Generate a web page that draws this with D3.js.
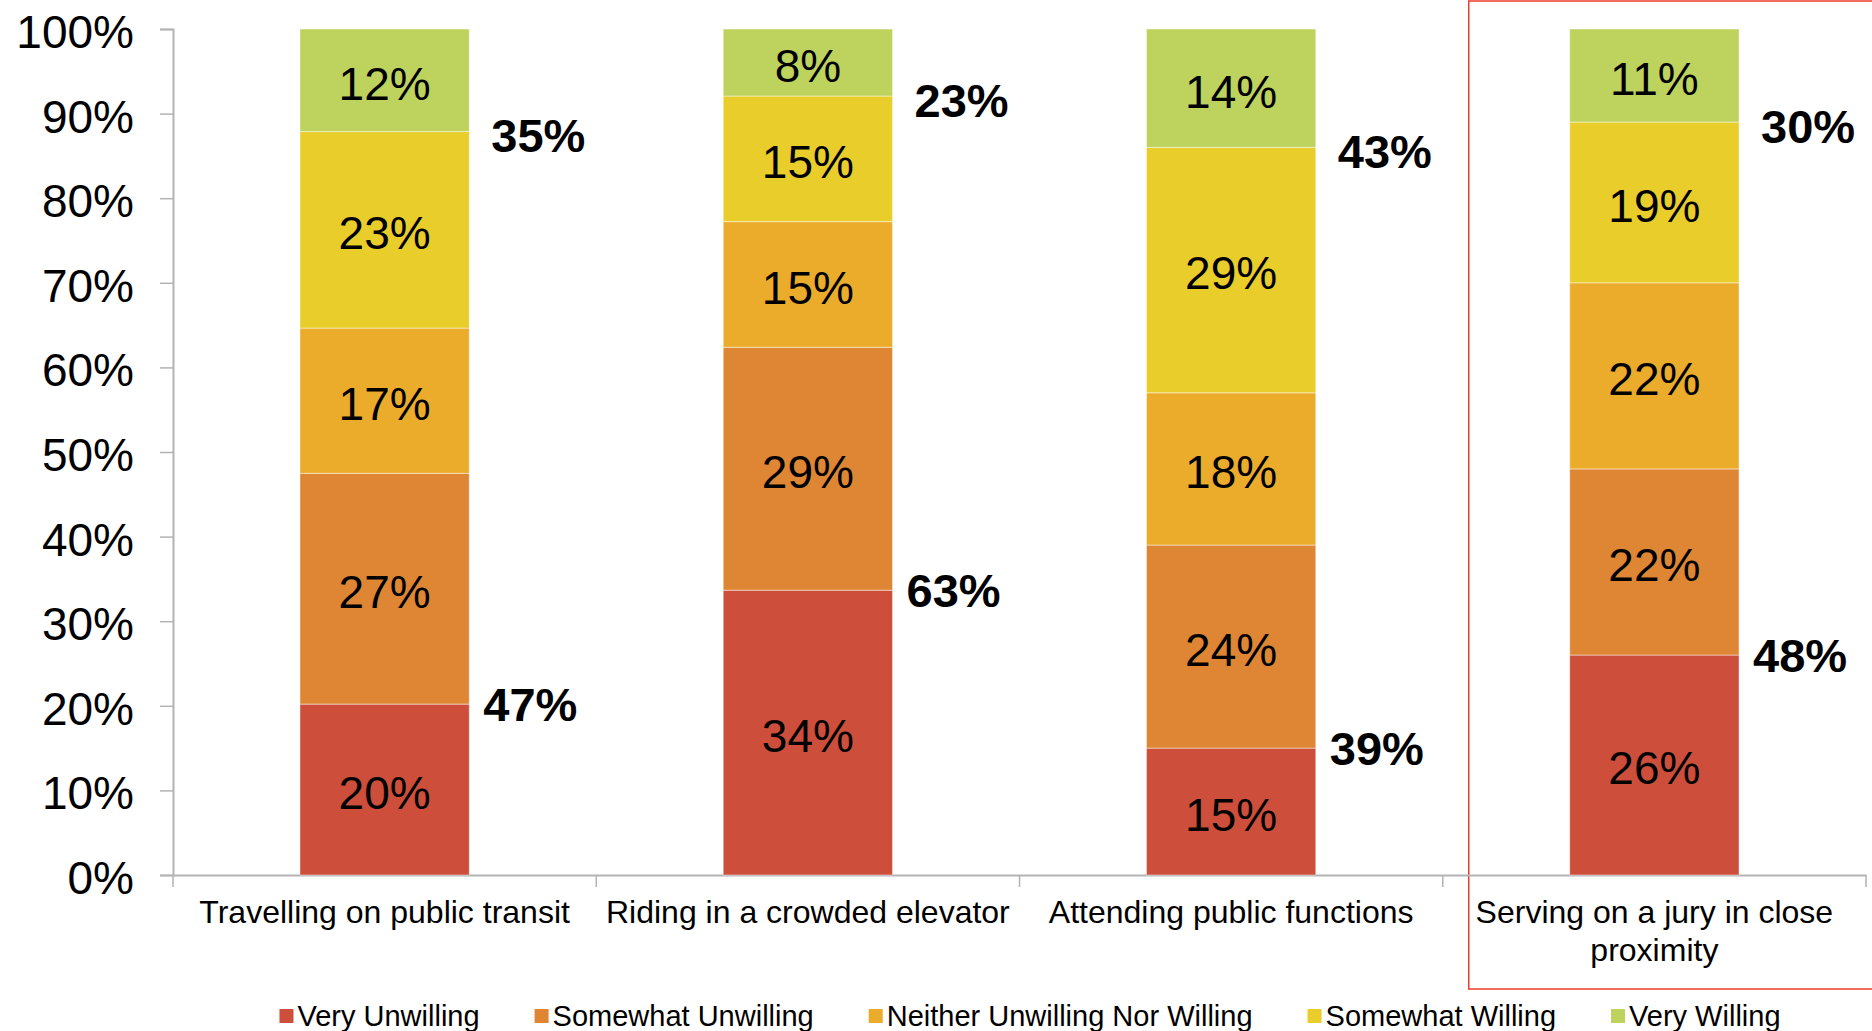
<!DOCTYPE html>
<html>
<head>
<meta charset="utf-8">
<script src="https://cdn.jsdelivr.net/npm/d3@7"></script>
<style>
  body { margin: 0; background: #fff; }
  svg text { font-family: "Liberation Sans", Arial, Helvetica, sans-serif; }
</style>
</head>
<body>
<svg id="chart"></svg>
<script>
// chart values
const categories = [
    'Travelling on public transit',
    'Riding in a crowded elevator',
    'Attending public functions',
    'Serving on a jury in close proximity'
];
const seriesNames = ['Very Unwilling', 'Somewhat Unwilling', 'Neither Unwilling Nor Willing', 'Somewhat Willing', 'Very Willing'];
const veryUnwilling = [20, 34, 15, 26];
const somewhatUnwilling = [27, 29, 24, 22];
const neither = [17, 15, 18, 22];
const somewhatWilling = [23, 15, 29, 19];
const veryWilling = [12, 8, 14, 11];
const yTicks = [0, 0.1, 0.2, 0.3, 0.4, 0.5, 0.6, 0.7, 0.8, 0.9, 1];
const highlighted = 'Serving on a jury in close proximity';

const colors = ['#cd4e3b', '#de8634', '#ebac2c', '#e8cd2b', '#bed35e'];

const width = 1872, height = 1031;
const margin = { top: 29, right: 6, bottom: 156, left: 173 };

let svg = d3.select('#chart')
    .attr('width', width)
    .attr('height', height);

let rows = categories.map((c, i) => ({
    cat: c,
    'Very Unwilling': veryUnwilling[i],
    'Somewhat Unwilling': somewhatUnwilling[i],
    'Neither Unwilling Nor Willing': neither[i],
    'Somewhat Willing': somewhatWilling[i],
    'Very Willing': veryWilling[i]
}));

const stack = d3.stack()
    .keys(seriesNames)
    .offset(d3.stackOffsetExpand);
const layers = stack(rows);

const x = d3.scaleBand()
    .domain(categories)
    .range([margin.left, width - margin.right])
    .padding(0);
const y = d3.scaleLinear()
    .domain([0, 1])
    .range([height - margin.bottom, margin.top]);

const barW = x.bandwidth() * 0.4;
const barX = c => x(c) + (x.bandwidth() - barW) / 2;

/**
 * highlight box round the last category
 */
svg.append('rect')
    .attr('x', x(highlighted) + 26)
    .attr('y', 1)
    .attr('width', width)
    .attr('height', 988)
    .attr('fill', 'none')
    .attr('stroke', '#ee3b2a')
    .attr('stroke-width', 1.5);

/**
 * y axis
 */
let yAxis = svg.append('g')
    .attr('transform', `translate(${margin.left},0)`)
    .call(d3.axisLeft(y).tickValues(yTicks).tickFormat(d3.format('.0%')).tickSize(13).tickPadding(26));
yAxis.select('.domain').attr('stroke', '#b3b3b3').attr('stroke-width', 2);
yAxis.selectAll('.tick line').attr('stroke', '#b3b3b3').attr('stroke-width', 1.5);
yAxis.selectAll('.tick text')
    .attr('fill', '#000')
    .attr('dy', '0.4em')
    .style('font-size', '46px')
    .style('font-family', '"Liberation Sans", Arial, sans-serif');

/**
 * x axis with ticks on the category boundaries
 */
let xAxis = svg.append('g')
    .attr('transform', `translate(0,${y(0)})`)
    .call(d3.axisBottom(x).tickSize(0).tickFormat(''));
xAxis.select('.domain').attr('stroke', '#b3b3b3').attr('stroke-width', 2);

let bounds = categories.map(c => x(c)).concat([x.range()[1]]);
svg.append('g').selectAll('line')
    .data(bounds)
    .join('line')
    .attr('x1', d => d).attr('x2', d => d)
    .attr('y1', y(0)).attr('y2', y(0) + 12)
    .attr('stroke', '#b3b3b3')
    .attr('stroke-width', 1.5);

/**
 * stacked bars
 */
let layerG = svg.append('g').selectAll('g')
    .data(layers)
    .join('g')
    .attr('fill', (d, i) => colors[i]);

layerG.selectAll('rect')
    .data(d => d)
    .join('rect')
    .attr('x', d => barX(d.data.cat))
    .attr('y', d => y(d[1]))
    .attr('width', barW)
    .attr('height', d => y(d[0]) - y(d[1]))
    .attr('stroke', 'rgba(255,255,255,0.45)')
    .attr('stroke-width', 1);

layerG.selectAll('text')
    .data((d) => d.map(p => ({ p: p, key: d.key })))
    .join('text')
    .attr('x', d => barX(d.p.data.cat) + barW / 2)
    .attr('y', d => (y(d.p[0]) + y(d.p[1])) / 2)
    .attr('dy', '0.42em')
    .attr('text-anchor', 'middle')
    .attr('fill', '#000')
    .style('font-size', '46px')
    .text(d => d.p.data[d.key] + '%');

/**
 * totals: willing on top, unwilling below
 */
let totals = svg.append('g');
rows.forEach((r, i) => {
    let right = barX(r.cat) + barW;
    let willing = r['Somewhat Willing'] + r['Very Willing'];
    let unwilling = r['Very Unwilling'] + r['Somewhat Unwilling'];
    totals.append('text')
        .attr('x', right + 22)
        .attr('y', y(layers[3][i][1]) + 4)
        .attr('dy', '0.36em')
        .style('font-size', '47px')
        .style('font-weight', 'bold')
        .text(willing + '%');
    totals.append('text')
        .attr('x', right + 14)
        .attr('y', y(layers[0][i][1]))
        .attr('dy', '0.36em')
        .style('font-size', '47px')
        .style('font-weight', 'bold')
        .text(unwilling + '%');
});

/**
 * category labels, wrapped to the band width
 */
let catLabels = svg.append('g').selectAll('text')
    .data(categories)
    .join('text')
    .attr('x', d => x(d) + x.bandwidth() / 2)
    .attr('y', y(0) + 48)
    .attr('text-anchor', 'middle')
    .style('font-size', '32px')
    .text(d => d);

catLabels.each(function(d) {
    let t = d3.select(this);
    let words = d.split(' ');
    let maxW = x.bandwidth() - 6;
    t.text(null);
    let line = [];
    let tspan = t.append('tspan').attr('x', x(d) + x.bandwidth() / 2).attr('dy', 0);
    words.forEach(w => {
        line.push(w);
        tspan.text(line.join(' '));
        if (tspan.node().getComputedTextLength() > maxW && line.length > 1) {
            line.pop();
            tspan.text(line.join(' '));
            line = [w];
            tspan = t.append('tspan')
                .attr('x', x(d) + x.bandwidth() / 2)
                .attr('dy', '1.2em')
                .text(w);
        }
    });
});

/**
 * legend, centred under the plot
 */
let legend = svg.append('g');
let items = legend.selectAll('g')
    .data(seriesNames)
    .join('g');
items.append('rect')
    .attr('width', 14)
    .attr('height', 14)
    .attr('y', -14)
    .attr('fill', (d, i) => colors[i]);
items.append('text')
    .attr('x', 18)
    .attr('y', 0)
    .attr('dy', '0.1em')
    .style('font-size', '29px')
    .text(d => d);

let cursor = 0;
items.each(function() {
    let g = d3.select(this);
    g.attr('transform', `translate(${cursor},0)`);
    cursor += 18 + g.select('text').node().getComputedTextLength() + 55;
});
let legendW = cursor - 55;
legend.attr('transform', `translate(${1030 - legendW / 2},${1023})`);
</script>
</body>
</html>
